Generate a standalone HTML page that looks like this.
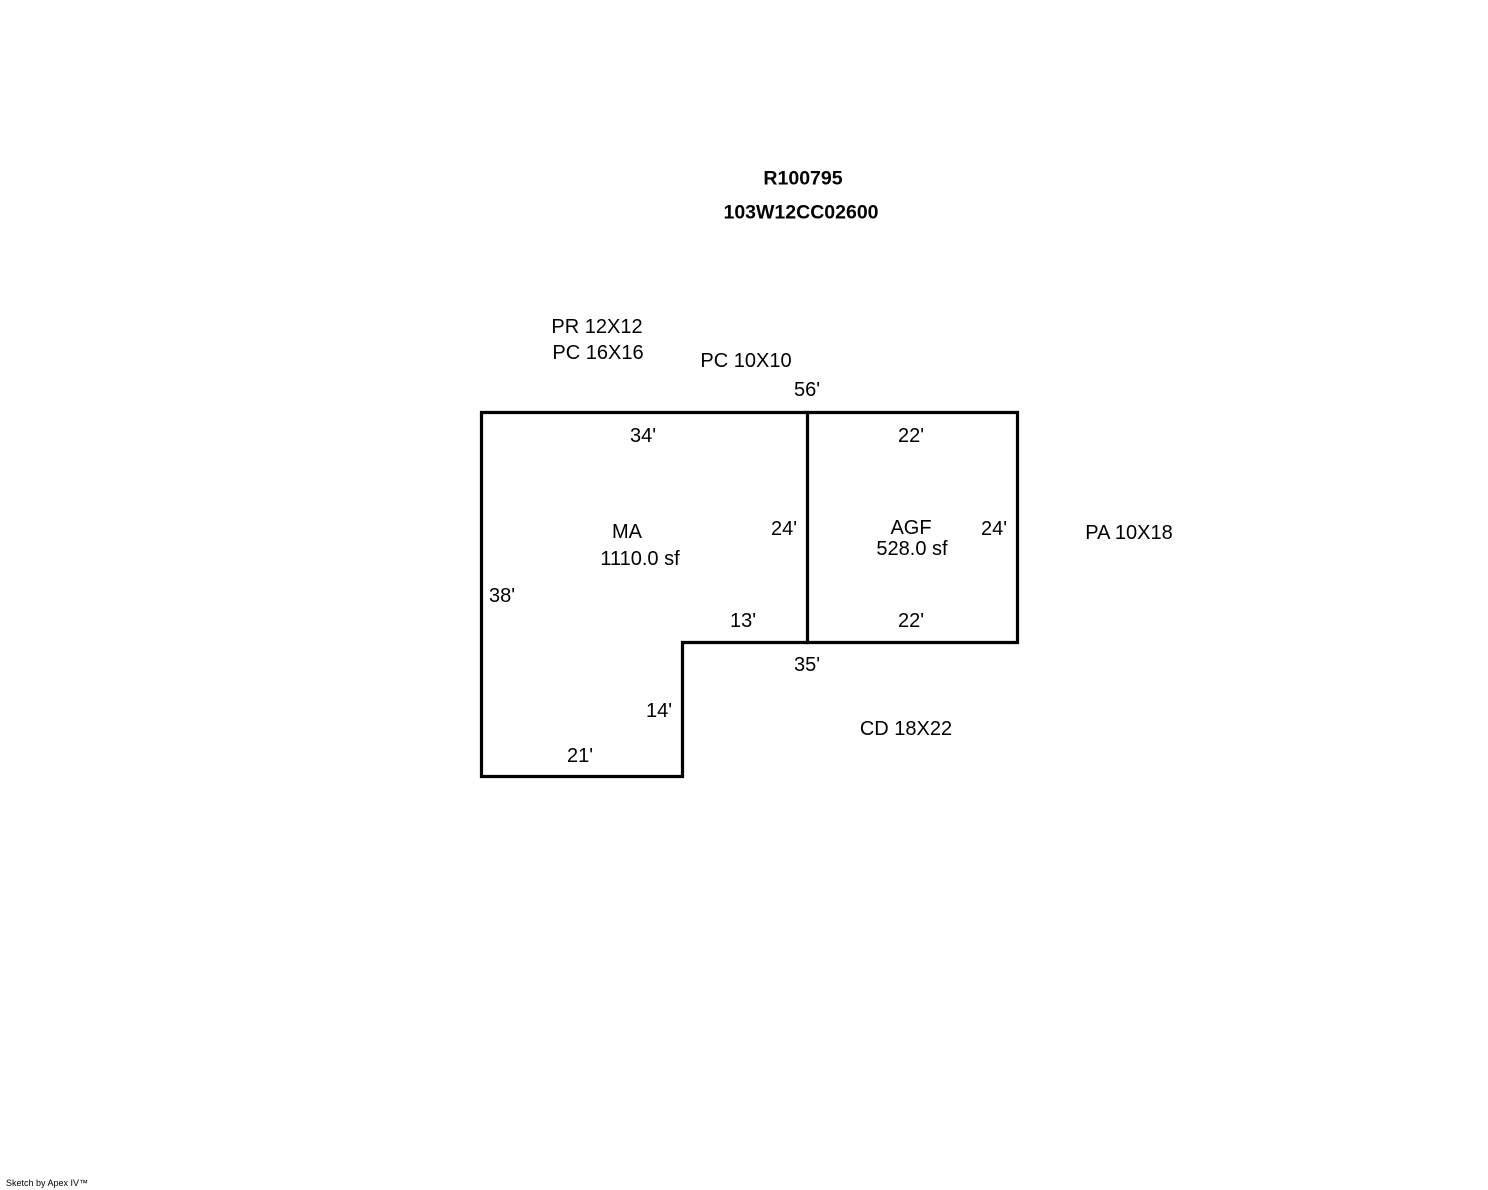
<!DOCTYPE html>
<html><head><style>
body{margin:0;width:1488px;height:1190px;background:#fff;position:relative;overflow:hidden;font-family:"Liberation Sans",Arial,sans-serif;color:#000}
.t{position:absolute;font-size:20px;white-space:nowrap;transform:translate(-50%,-50%);line-height:1;margin-top:1px}
.b{font-weight:bold;font-size:19.5px}
svg{position:absolute;left:0;top:0}
</style></head><body>
<svg width="1488" height="1190">
<g fill="none" stroke="#000" stroke-width="3.2" stroke-linecap="square">
<path d="M481.5 412.5 H1017.5 V642.5 H682.5 V776.5 H481.5 Z"/>
<path d="M807.5 412.5 V642.5"/>
</g>
</svg>
<div class="t b" style="left:803px;top:178px">R100795</div>
<div class="t b" style="left:801px;top:212px">103W12CC02600</div>
<div class="t" style="left:597px;top:326px">PR 12X12</div>
<div class="t" style="left:598px;top:352px">PC 16X16</div>
<div class="t" style="left:746px;top:360px">PC 10X10</div>
<div class="t" style="left:807px;top:389px">56'</div>
<div class="t" style="left:643px;top:435px">34'</div>
<div class="t" style="left:911px;top:435px">22'</div>
<div class="t" style="left:627px;top:531px">MA</div>
<div class="t" style="left:640px;top:558px">1110.0 sf</div>
<div class="t" style="left:784px;top:528px">24'</div>
<div class="t" style="left:911px;top:527px">AGF</div>
<div class="t" style="left:912px;top:548px">528.0 sf</div>
<div class="t" style="left:994px;top:528px">24'</div>
<div class="t" style="left:1129px;top:532px">PA 10X18</div>
<div class="t" style="left:502px;top:595px">38'</div>
<div class="t" style="left:743px;top:620px">13'</div>
<div class="t" style="left:911px;top:620px">22'</div>
<div class="t" style="left:807px;top:664px">35'</div>
<div class="t" style="left:659px;top:710px">14'</div>
<div class="t" style="left:906px;top:728px">CD 18X22</div>
<div class="t" style="left:580px;top:755px">21'</div>
<div style="position:absolute;left:6px;top:1179px;font-size:9px;line-height:1">Sketch by Apex IV™</div>
</body></html>
